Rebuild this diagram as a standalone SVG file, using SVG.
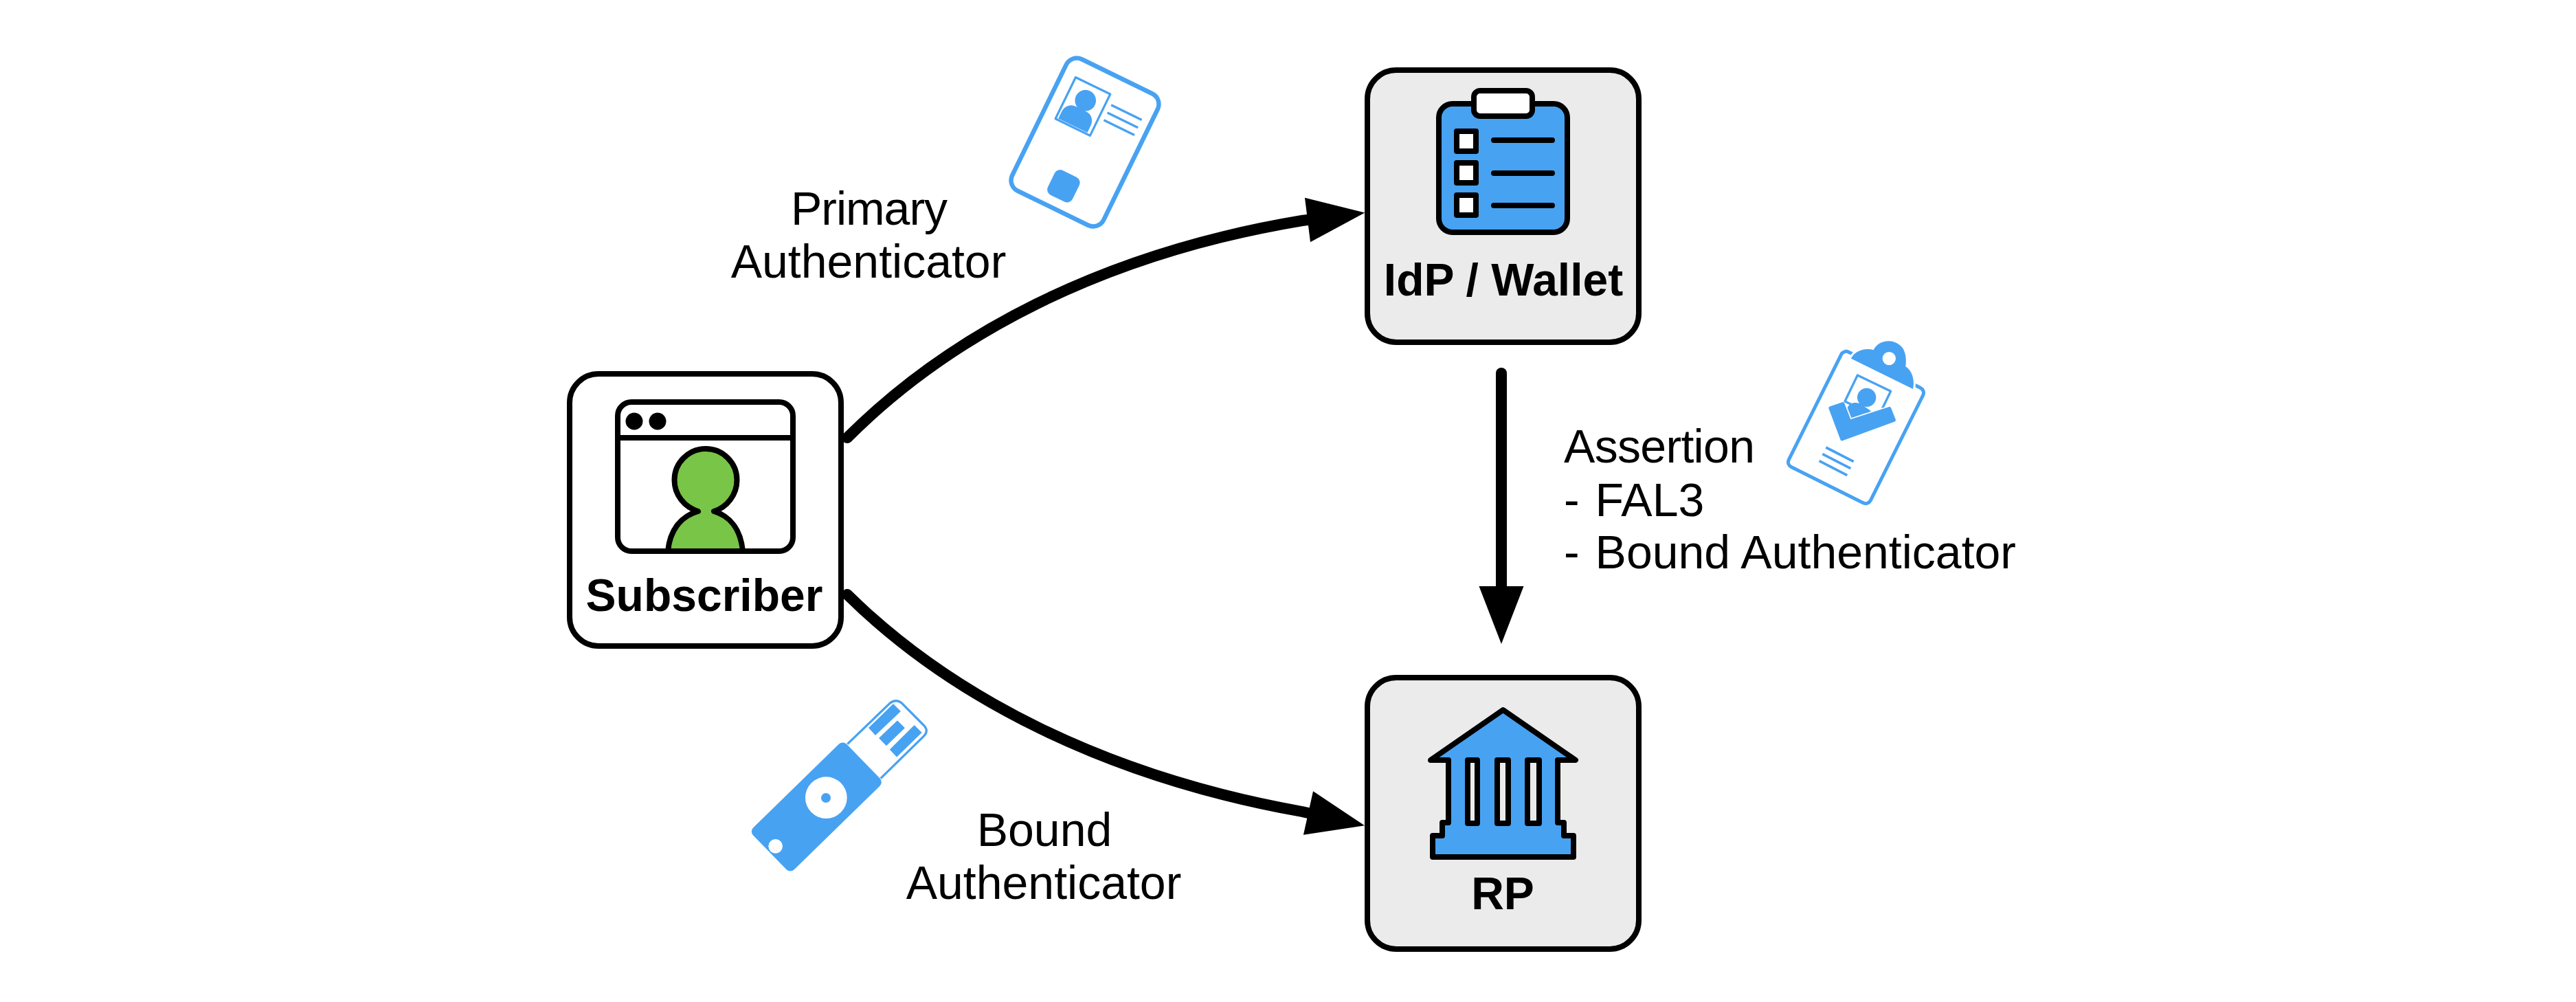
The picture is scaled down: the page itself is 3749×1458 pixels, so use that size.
<svg xmlns="http://www.w3.org/2000/svg" width="3749" height="1458" viewBox="0 0 3749 1458">
<style>
text{font-family:"Liberation Sans",Arial,sans-serif;fill:#000}
.t{font-size:68px}
.b{font-size:66px;font-weight:700;text-anchor:middle}
.m{text-anchor:middle}
.box{stroke:#000;stroke-width:8}
.k{stroke:#000;stroke-width:8;stroke-linejoin:round;stroke-linecap:round}
.bl{fill:#48A2F2}
.o{fill:none;stroke:#48A2F2}
.c{fill:none;stroke:#000;stroke-width:16;stroke-linecap:round}
</style>
<defs>
<marker id="head" markerUnits="userSpaceOnUse" markerWidth="90" markerHeight="70" refX="0" refY="32.5" orient="auto" overflow="visible"><path d="M0 0L84 32.5L0 65Z" fill="#000"/></marker>
</defs>
<rect width="3749" height="1458" fill="#fff"/>
<g id="connectors">
<path class="c" marker-end="url(#head)" d="M1233 637C1380 490 1600 370 1895 321L1903 320"/>
<path class="c" marker-end="url(#head)" d="M1233 865C1385 1015 1610 1130 1895 1181L1904 1183"/>
<path class="c" marker-end="url(#head)" d="M2185 543V853"/>
</g>
<g id="subscriber">
<rect class="box" x="829" y="544" width="395" height="396" rx="42" fill="#fff"/>
<rect class="k" x="899" y="585" width="255" height="217" rx="20" fill="#fff"/>
<path class="k" d="M899 637H1154" fill="none"/>
<circle cx="923" cy="613" r="12.500"/><circle cx="957" cy="613" r="12.500"/>
<path class="k" fill="#78C547" d="M972 802C975 771 991 751 1016 744C996 738 981.500 720 981.500 698.500A45.500 45.500 0 0 1 1072.500 698.500C1072.500 720 1058 738 1039 744C1063 751 1078 771 1081 802Z"/>
<text class="b" x="1025" y="889">Subscriber</text>
</g>
<g id="idp">
<rect class="box" x="1990" y="102" width="395" height="396" rx="42" fill="#EBEBEB"/>
<rect class="k" x="2094" y="151" width="187" height="187" rx="20" fill="#48A2F2"/>
<rect class="k" x="2145" y="132" width="85" height="37" rx="9" fill="#fff"/>
<rect class="k" x="2120" y="191" width="28" height="29" fill="#fff"/>
<rect class="k" x="2120" y="237" width="28" height="29" fill="#fff"/>
<rect class="k" x="2120" y="284" width="28" height="29" fill="#fff"/>
<path class="k" d="M2174 204H2259M2174 252H2259M2174 299H2259" fill="none"/>
<text class="b" x="2188" y="430">IdP / Wallet</text>
</g>
<g id="rp">
<rect class="box" x="1990" y="986" width="395" height="395" rx="42" fill="#EBEBEB"/>
<path class="k" fill="#48A2F2" d="M2187.500 1033L2293 1106H2267V1197H2276V1216H2290V1247H2085V1216H2099V1197H2108V1106H2082Z"/>
<rect class="k" x="2136" y="1106" width="14" height="92" fill="#EBEBEB"/>
<rect class="k" x="2179" y="1106" width="16" height="92" fill="#EBEBEB"/>
<rect class="k" x="2223" y="1106" width="17" height="92" fill="#EBEBEB"/>
<text class="b" x="2187" y="1323">RP</text>
</g>
<g id="primary-authenticator">
<g transform="translate(1579 207) rotate(26)">
<rect class="o" stroke-width="6.500" x="-74" y="-106.500" width="148" height="213" rx="17" fill="#fff"/>
<rect class="o" stroke-width="3.200" x="-53.600" y="-79" width="56" height="67" stroke-linejoin="round"/>
<circle class="bl" cx="-26" cy="-55" r="15.300"/>
<path class="bl" d="M-50-14V-25C-50-34-44-41-35-41H-18C-9-41-3-34-3-25V-14Z"/>
<path class="o" stroke-width="3.400" d="M10.500-65.500H60M10.500-53H60M10.500-41H60"/>
<rect class="bl" x="-20" y="51" width="40" height="40" rx="9"/>
</g>
<text class="t m" x="1265" y="327" textLength="228">Primary</text>
<text class="t m" x="1264" y="404">Authenticator</text>
</g>
<g id="bound-authenticator">
<g transform="translate(1070 1000) scale(.33333)">
<path class="o" stroke-width="10" stroke-linejoin="round" fill="none" d="M490 248L675 70Q702 48 728 70L822 165Q848 190 822 215L635 398"/>
<rect class="bl" x="-285" y="-128" width="570" height="256" rx="24" transform="translate(355 522) rotate(-44.300)"/>
<path class="bl" d="M690 75L720 105L612 207L585 177ZM708 148L738 178L660 253L630 222ZM782 168L812 198L705 302L677 272Z" stroke="#48A2F2" stroke-width="4" stroke-linejoin="round"/>
<circle cx="397" cy="482" r="91" fill="#fff"/><circle class="bl" cx="396" cy="483" r="21"/>
<circle cx="176" cy="694" r="31" fill="#fff"/>
</g>
<text class="t m" x="1520" y="1231">Bound</text>
<text class="t m" x="1519" y="1308">Authenticator</text>
</g>
<g id="assertion">
<g transform="translate(2701 622) rotate(26.500)">
<rect class="o" stroke-width="5" x="-66.500" y="-93.500" width="133" height="187" rx="8" fill="#fff"/>
</g>
<g transform="translate(2560 470) scale(.33333)">
<path class="bl" stroke="#fff" stroke-width="18" paint-order="stroke" d="M402 155C415 125 460 105 500 118C518 75 590 60 628 110C645 140 642 170 640 190C665 205 682 245 672 288Z"/>
<circle cx="568" cy="155" r="29" fill="#fff"/>
<path class="o" stroke-width="10" fill="#fff" stroke-linejoin="round" d="M430 228L575 298L520 412L375 342Z"/>
<circle class="bl" cx="470" cy="325" r="41"/>
<path class="bl" d="M385 372C395 345 430 342 450 358L490 385L400 418Z"/>
<path d="M366 352L396 429L570 373" fill="none" stroke="#fff" stroke-width="24"/>
<path class="bl" d="M311 371L366 352L396 429L570 373L590 424L362 507Z" stroke="#48A2F2" stroke-width="14" stroke-linejoin="round"/>
<path class="o" stroke-width="11" d="M292 543L413 605M277 572L400 635M263 602L385 665"/>
</g>
<text class="t" x="2276" y="673" textLength="278">Assertion</text>
<text class="t" x="2276" y="751">- <tspan dx="4">FAL3</tspan></text>
<text class="t" x="2276" y="827">- <tspan dx="4">Bound Authenticator</tspan></text>
</g>
</svg>
